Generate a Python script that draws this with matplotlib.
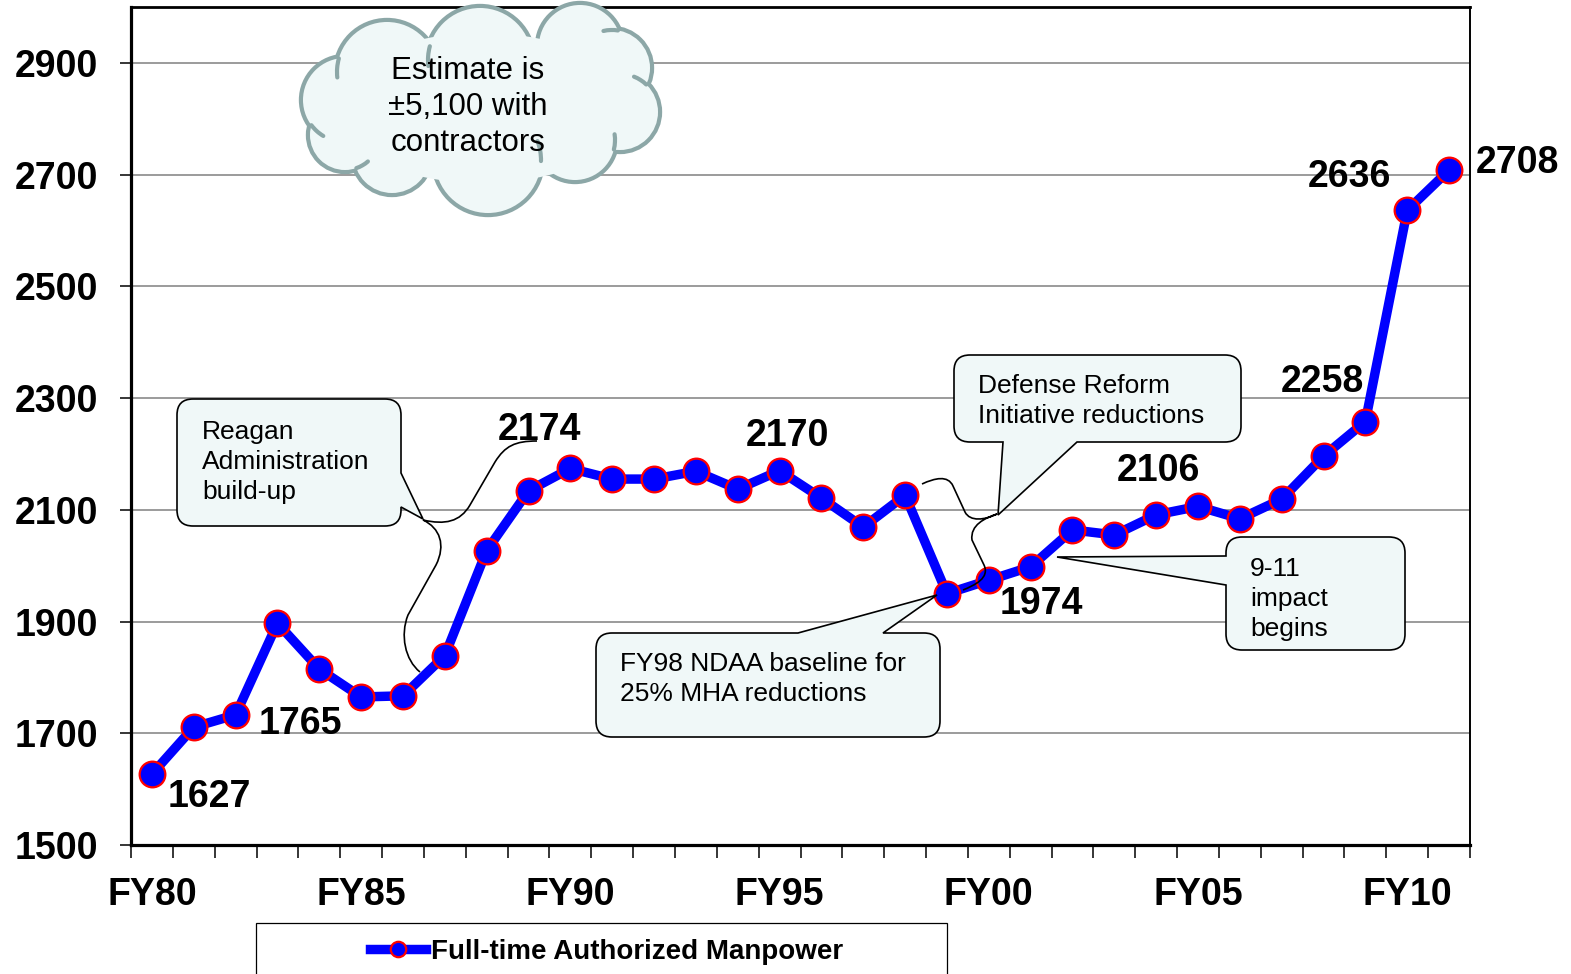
import numpy as np
import matplotlib
matplotlib.use('Agg')
import matplotlib.pyplot as plt
from matplotlib.path import Path
from matplotlib.patches import PathPatch, Ellipse, Rectangle, Arc
import matplotlib.transforms as mtransforms

plt.rcParams['font.family'] = ['Liberation Sans', 'DejaVu Sans']

# ---------------- data ----------------
fiscal_years = ['FY80', 'FY81', 'FY82', 'FY83', 'FY84', 'FY85', 'FY86', 'FY87',
                'FY88', 'FY89', 'FY90', 'FY91', 'FY92', 'FY93', 'FY94', 'FY95',
                'FY96', 'FY97', 'FY98', 'FY99', 'FY00', 'FY01', 'FY02', 'FY03',
                'FY04', 'FY05', 'FY06', 'FY07', 'FY08', 'FY09', 'FY10', 'FY11']
manpower = [1627, 1711, 1733, 1897, 1815, 1765, 1767, 1839,
            2027, 2134, 2174, 2155, 2155, 2169, 2137, 2170,
            2121, 2069, 2126, 1950, 1974, 1998, 2064, 2055,
            2091, 2106, 2084, 2119, 2196, 2258, 2636, 2708]
series_name = 'Full-time Authorized Manpower'

xtick_labels = ['FY80', 'FY85', 'FY90', 'FY95', 'FY00', 'FY05', 'FY10']
ytick_values = [1500, 1700, 1900, 2100, 2300, 2500, 2700, 2900]

labeled_years = ['FY80', 'FY85', 'FY90', 'FY95', 'FY00', 'FY05', 'FY09', 'FY10', 'FY11']
label_offsets_px = [(57, -23), (-61, -27), (-31, 38), (8, 35), (53, -24),
                    (-40, 35), (-43, 40), (-58, 33), (68, 7)]

# ---------------- figure ----------------
W, H = 1571, 974
fig = plt.figure(figsize=(W / 100, H / 100), dpi=100)
ax = fig.add_axes([131 / W, 1 - 845 / H, (1470 - 131) / W, (845 - 7) / H])

x = np.arange(len(fiscal_years))
ax.plot(x, manpower, color='#0000FF', lw=6.8, marker='o', ms=18.5,
        mfc='#0000FF', mec='#FF0000', mew=1.6, zorder=3, label=series_name,
        solid_joinstyle='miter')

ax.set_xlim(-0.5, len(fiscal_years) - 0.5)
ax.set_ylim(1500, 3000)

major_pos = [fiscal_years.index(l) for l in xtick_labels]
ax.set_xticks(major_pos)
ax.set_xticklabels(xtick_labels, fontsize=27, fontweight='bold')
ax.set_xticks(np.arange(-0.5, len(fiscal_years), 1), minor=True)
ax.tick_params(axis='x', which='major', length=0, pad=23)
ax.tick_params(axis='x', which='minor', length=9.4, width=1.1, direction='out')

ax.set_yticks(ytick_values)
ax.set_yticklabels([str(v) for v in ytick_values], fontsize=27, fontweight='bold')
ax.tick_params(axis='y', which='major', length=8, width=1.1, direction='out', pad=16)

ax.yaxis.grid(True, color='#808080', lw=1.1)
ax.set_axisbelow(True)
ax.spines['left'].set_linewidth(2.3)
ax.spines['bottom'].set_linewidth(2.3)
ax.spines['top'].set_linewidth(2.0)
ax.spines['right'].set_linewidth(1.4)

# value labels
for yr, off in zip(labeled_years, label_offsets_px):
    i = fiscal_years.index(yr)
    ax.annotate(str(manpower[i]), xy=(i, manpower[i]), xytext=off,
                textcoords='offset pixels', ha='center', va='center',
                fontsize=27, fontweight='bold', zorder=5)

# ---------------- annotations (pixel coordinates, y down) ----------------
pix = mtransforms.Affine2D().scale(1 / W, -1 / H).translate(0, 1) + fig.transFigure
FILL = '#F0F8F8'


def callout(x0, y0, x1, y1, side, pa, pb, tip, r=16):
    verts, codes = [], []

    def mv(p):
        verts.append(p); codes.append(Path.MOVETO)

    def ln(p):
        verts.append(p); codes.append(Path.LINETO)

    def cv(c, p):
        verts.extend([c, p]); codes.extend([Path.CURVE3, Path.CURVE3])

    mv((x0 + r, y0))
    if side == 'top':
        ln((pa, y0)); ln(tip); ln((pb, y0))
    ln((x1 - r, y0)); cv((x1, y0), (x1, y0 + r))
    if side == 'right':
        ln((x1, pa)); ln(tip); ln((x1, pb))
    ln((x1, y1 - r)); cv((x1, y1), (x1 - r, y1))
    if side == 'bottom':
        ln((pb, y1)); ln(tip); ln((pa, y1))
    ln((x0 + r, y1)); cv((x0, y1), (x0, y1 - r))
    if side == 'left':
        ln((x0, pb)); ln(tip); ln((x0, pa))
    ln((x0, y0 + r)); cv((x0, y0), (x0 + r, y0))
    verts.append((x0 + r, y0)); codes.append(Path.CLOSEPOLY)
    p = PathPatch(Path(verts, codes), transform=pix, facecolor=FILL,
                  edgecolor='black', lw=1.2, zorder=10, joinstyle='miter')
    fig.add_artist(p)


def brace(segs):
    verts, codes = [], []
    for seg in segs:
        verts.append(seg[0]); codes.append(Path.MOVETO)
        for kind, pts in seg[1:]:
            if kind == 'L':
                verts.append(pts); codes.append(Path.LINETO)
            else:
                verts.extend(pts); codes.extend([Path.CURVE4] * 3)
    p = PathPatch(Path(verts, codes), transform=pix, facecolor='none',
                  edgecolor='black', lw=1.2, zorder=11)
    fig.add_artist(p)


def ptext(xp, yp, s, **kw):
    fig.text(xp / W, 1 - yp / H, s, zorder=20, **kw)


# Reagan
callout(177, 399, 401, 526, 'right', 473, 507, (423, 519))
ptext(202, 462, 'Reagan\nAdministration\nbuild-up', fontsize=19, ha='left', va='center',
      linespacing=1.3)
brace([[(537, 441), ('C', [(515, 441), (505, 446), (495, 462)]), ('L', (470, 505)),
        ('C', [(460, 522), (445, 525), (423, 520)])],
       [(423, 520), ('C', [(440, 528), (446, 545), (436, 565)]), ('L', (408, 615)),
        ('C', [(400, 635), (405, 660), (420, 672)])]])

# Defense Reform
callout(954, 355, 1241, 442, 'bottom', 1003, 1077, (998, 515))
ptext(978, 401, 'Defense Reform\nInitiative reductions', fontsize=19, ha='left', va='center',
      linespacing=1.3)
brace([[(922, 484), ('C', [(935, 478), (948, 475), (953, 486)]), ('L', (965, 512)),
        ('C', [(970, 522), (985, 520), (997, 514)])],
       [(997, 514), ('C', [(985, 518), (970, 525), (972, 540)]), ('L', (984, 565)),
        ('C', [(990, 578), (975, 585), (963, 590)])]])

# FY98 NDAA
callout(596, 633, 940, 737, 'top', 798, 883, (937, 595))
ptext(620, 679, 'FY98 NDAA baseline for\n25% MHA reductions', fontsize=19, ha='left',
      va='center', linespacing=1.3)

# 9-11
callout(1226, 537, 1405, 650, 'left', 556, 585, (1057, 557))
ptext(1250, 599, '9-11\nimpact\nbegins', fontsize=19, ha='left', va='center',
      linespacing=1.3)

# Cloud
cloud_circles = [((387, 72), 50), ((480, 60), 52), ((580, 46), 41), ((612, 68), 38),
                 ((620, 112), 38), ((575, 140), 40), ((488, 160), 53), ((392, 155), 38),
                 ((345, 135), 35), ((345, 100), 42)]
CLOUD_EDGE = '#8CA7A7'
LWC = 3.0
for (c, rr) in cloud_circles:
    fig.add_artist(Ellipse(c, 2 * rr, 2 * rr, transform=pix, facecolor=FILL,
                           edgecolor=CLOUD_EDGE, lw=2 * LWC, zorder=13))
for (c, rr) in cloud_circles:
    fig.add_artist(Ellipse(c, 2 * rr, 2 * rr, transform=pix, facecolor=FILL,
                           edgecolor='none', zorder=14))
fig.add_artist(Ellipse((482, 108), 300, 150, transform=pix, facecolor=FILL,
                       edgecolor='none', zorder=14))

# inner "tuck" arcs of the cloud (continuation of a bump's edge into the body)
cc = np.array([480.0, 110.0])
n = len(cloud_circles)
for k in range(n):
    (c1, r1), (c2, r2) = cloud_circles[k], cloud_circles[(k + 1) % n]
    c1 = np.array(c1, float); c2 = np.array(c2, float)
    d = np.linalg.norm(c2 - c1)
    if d >= r1 + r2 or d <= abs(r1 - r2):
        continue
    a = (r1 ** 2 - r2 ** 2 + d ** 2) / (2 * d)
    h = np.sqrt(max(r1 ** 2 - a ** 2, 0))
    mid = c1 + a * (c2 - c1) / d
    perp = np.array([-(c2 - c1)[1], (c2 - c1)[0]]) / d
    pts = [mid + h * perp, mid - h * perp]
    P = max(pts, key=lambda p: np.linalg.norm(p - cc))
    th = np.degrees(np.arctan2(P[1] - c2[1], P[0] - c2[0]))
    sgn = 1
    for s in (1, -1):
        tt = np.radians(th + s * 10)
        q = c2 + r2 * np.array([np.cos(tt), np.sin(tt)])
        if np.linalg.norm(q - c1) < r1:
            sgn = s
            break
    t0, t1 = sorted([th, th + sgn * 22])
    fig.add_artist(Arc(tuple(c2), 2 * r2, 2 * r2, theta1=t0, theta2=t1,
                       transform=pix, edgecolor=CLOUD_EDGE, lw=LWC, zorder=15,
                       capstyle='round'))

ptext(468, 107, 'Estimate is\n\u00b15,100 with\ncontractors', fontsize=22.5, ha='center',
      va='center', linespacing=1.27, multialignment='center')

# ---------------- legend ----------------
fig.add_artist(Rectangle((256, 923), 691, 80, transform=pix, facecolor='white',
                         edgecolor='black', lw=0.9, zorder=1))
leg = fig.legend(loc='center left', bbox_to_anchor=(370 / W, 1 - 952 / H),
                 frameon=False, borderpad=0, borderaxespad=0, handlelength=2.0,
                 handletextpad=0.2, prop={'weight': 'bold', 'size': 20},
                 markerscale=0.6)
leg.set_zorder(20)

fig.savefig('out.png', dpi=100)
